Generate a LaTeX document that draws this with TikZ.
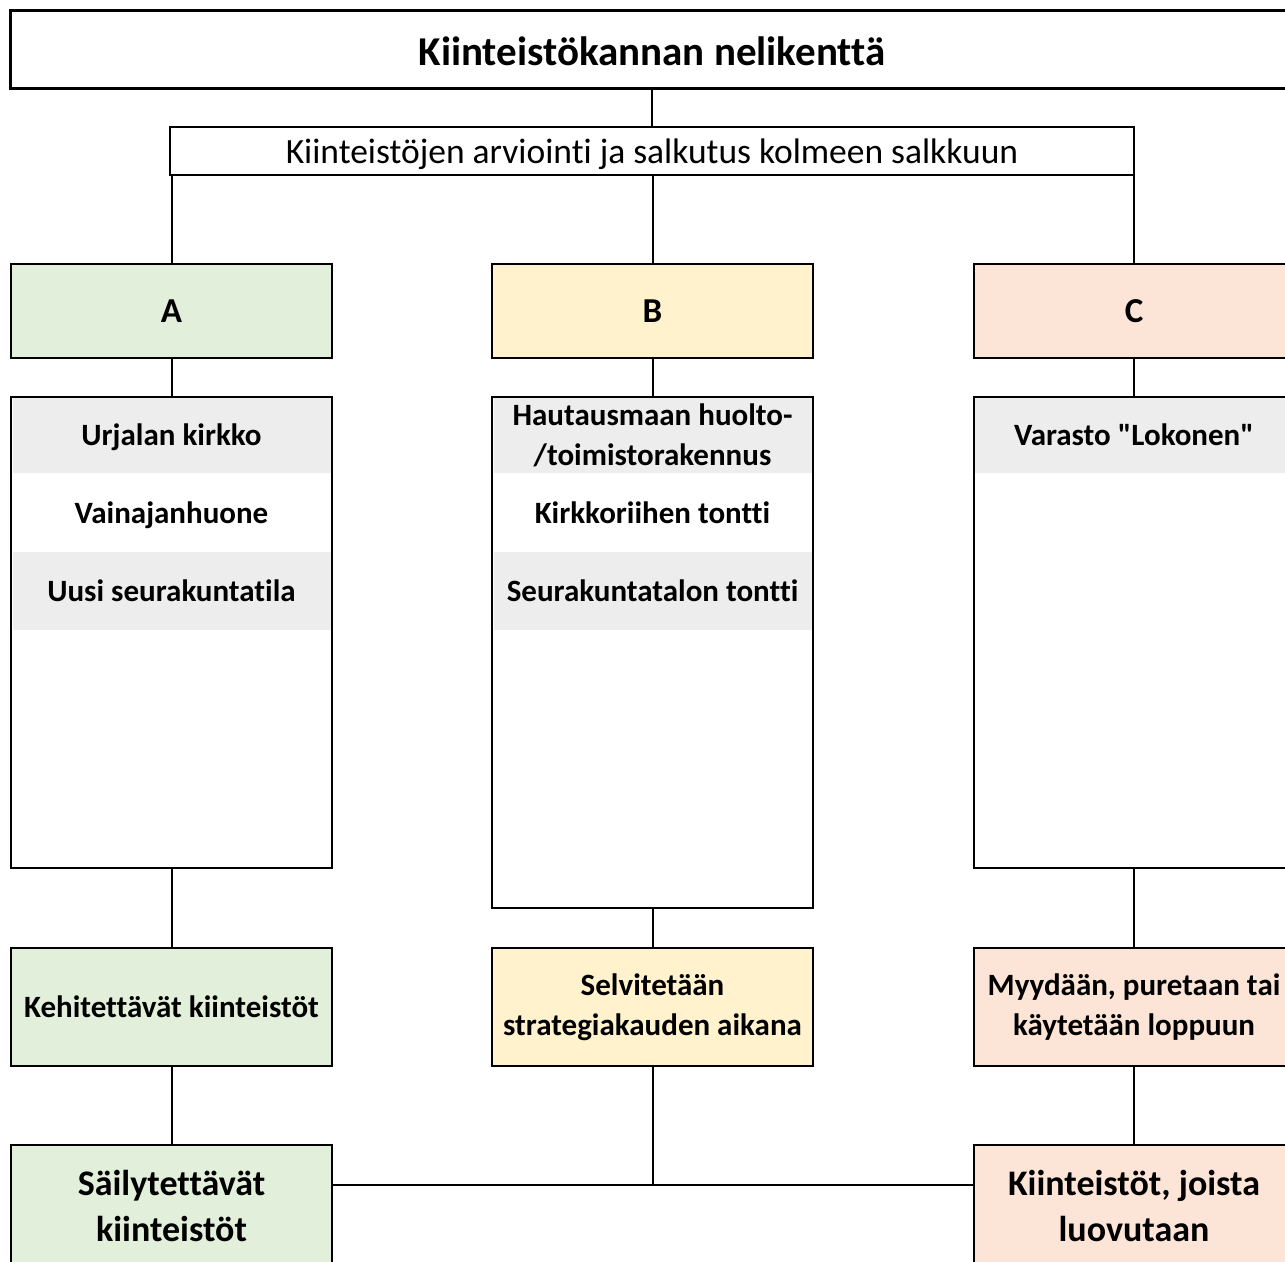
\documentclass[tikz,border=0pt]{standalone}
\usepackage{fontspec}
\setmainfont{Carlito}[Ligatures={TeXOff,NoCommon}]
\definecolor{gA}{HTML}{E2EFDA}
\definecolor{yB}{HTML}{FFF2CC}
\definecolor{pC}{HTML}{FCE4D6}
\definecolor{rowg}{HTML}{EDEDED}
\begin{document}
\begin{tikzpicture}[x=1pt,y=-1pt,
  box/.style={draw, line width=2pt, inner sep=0pt, align=center},
  conn/.style={line width=2pt},
  rowbox/.style={fill=rowg, inner sep=0pt, minimum width=318, align=center, text depth=0pt, font=\fontsize{31}{40}\selectfont\bfseries},
  rowwhite/.style={inner sep=0pt, minimum width=318, align=center, text depth=0pt, font=\fontsize{31}{40}\selectfont\bfseries},
  letter/.style={box, minimum width=321, minimum height=94, font=\fontsize{35}{40}\selectfont\bfseries},
  outbox/.style={box, minimum width=321, minimum height=118, font=\fontsize{31}{40}\selectfont\bfseries},
  finbox/.style={box, minimum width=321, minimum height=122, font=\fontsize{36}{46}\selectfont\bfseries},
  listbox/.style={box, minimum width=321}
]
\useasboundingbox (0,0) rectangle (1285,1261);
\fill[white] (0,0) rectangle (1285,1261);
\clip (0,0) rectangle (1285,1261);

% title and subtitle
\node[box, line width=3pt, minimum width=1284, minimum height=78, text depth=0pt, text height=33pt, font=\fontsize{41}{46}\selectfont\bfseries] (title) at (652,49) {Kiinteistökannan nelikenttä};
\node[box, line width=2.5pt, minimum width=964, minimum height=48, text depth=0pt, font=\fontsize{35.5}{40}\selectfont] (sub) at (652,151) {Kiinteistöjen arviointi ja salkutus kolmeen salkkuun};

% category boxes
\node[letter, fill=gA] (A) at (171.5,311) {A};
\node[letter, fill=yB] (B) at (652.5,311) {B};
\node[letter, fill=pC] (C) at (1134,311) {C};

% list rows A
\node[rowbox, minimum height=76] (a1) at (171.5,435) {Urjalan kirkko};
\node[rowwhite, minimum height=79] (a2) at (171.5,512.5) {Vainajanhuone};
\node[rowbox, minimum height=78] (a3) at (171.5,591) {Uusi seurakuntatila};
% list rows B
\node[rowbox, minimum height=76] (b1) at (652.5,435) {Hautausmaan huolto-\\/toimistorakennus};
\node[rowwhite, minimum height=79] (b2) at (652.5,512.5) {Kirkkoriihen tontti};
\node[rowbox, minimum height=78] (b3) at (652.5,591) {Seurakuntatalon tontti};
% list rows C
\node[rowbox, minimum height=76] (c1) at (1134,435) {Varasto "Lokonen"};

% list borders
\node[listbox, minimum height=471] (LA) at (171.5,632.5) {};
\node[listbox, minimum height=511] (LB) at (652.5,652.5) {};
\node[listbox, minimum height=471] (LC) at (1134,632.5) {};

% outcome boxes
\node[outbox, fill=gA] (oA) at (171.5,1007) {Kehitettävät kiinteistöt};
\node[outbox, fill=yB] (oB) at (652.5,1007) {Selvitetään\\strategiakauden aikana};
\node[outbox, fill=pC] (oC) at (1134,1007) {Myydään, puretaan tai\\käytetään loppuun};

% final boxes
\node[finbox, fill=gA] (fA) at (171.5,1206) {Säilytettävät\\kiinteistöt};
\node[finbox, fill=pC] (fC) at (1134,1206) {Kiinteistöt, joista\\luovutaan};

% connectors
\draw[conn] (title.south) -- (sub.north);
\draw[conn] (sub.south -| A.north) -- (A.north);
\draw[conn] (sub.south -| B.north) -- (B.north);
\draw[conn] (sub.south -| C.north) -- (C.north);
\draw[conn] (A.south) -- (LA.north);
\draw[conn] (B.south) -- (LB.north);
\draw[conn] (C.south) -- (LC.north);
\draw[conn] (LA.south) -- (oA.north);
\draw[conn] (LB.south) -- (oB.north);
\draw[conn] (LC.south) -- (oC.north);
\draw[conn] (oA.south) -- (fA.north);
\draw[conn] (oC.south) -- (fC.north);
\coordinate (j) at (652.5,1185);
\draw[conn] (oB.south) -- (j);
\draw[conn] (fA.east |- j) -- (fC.west |- j);
\end{tikzpicture}
\end{document}
